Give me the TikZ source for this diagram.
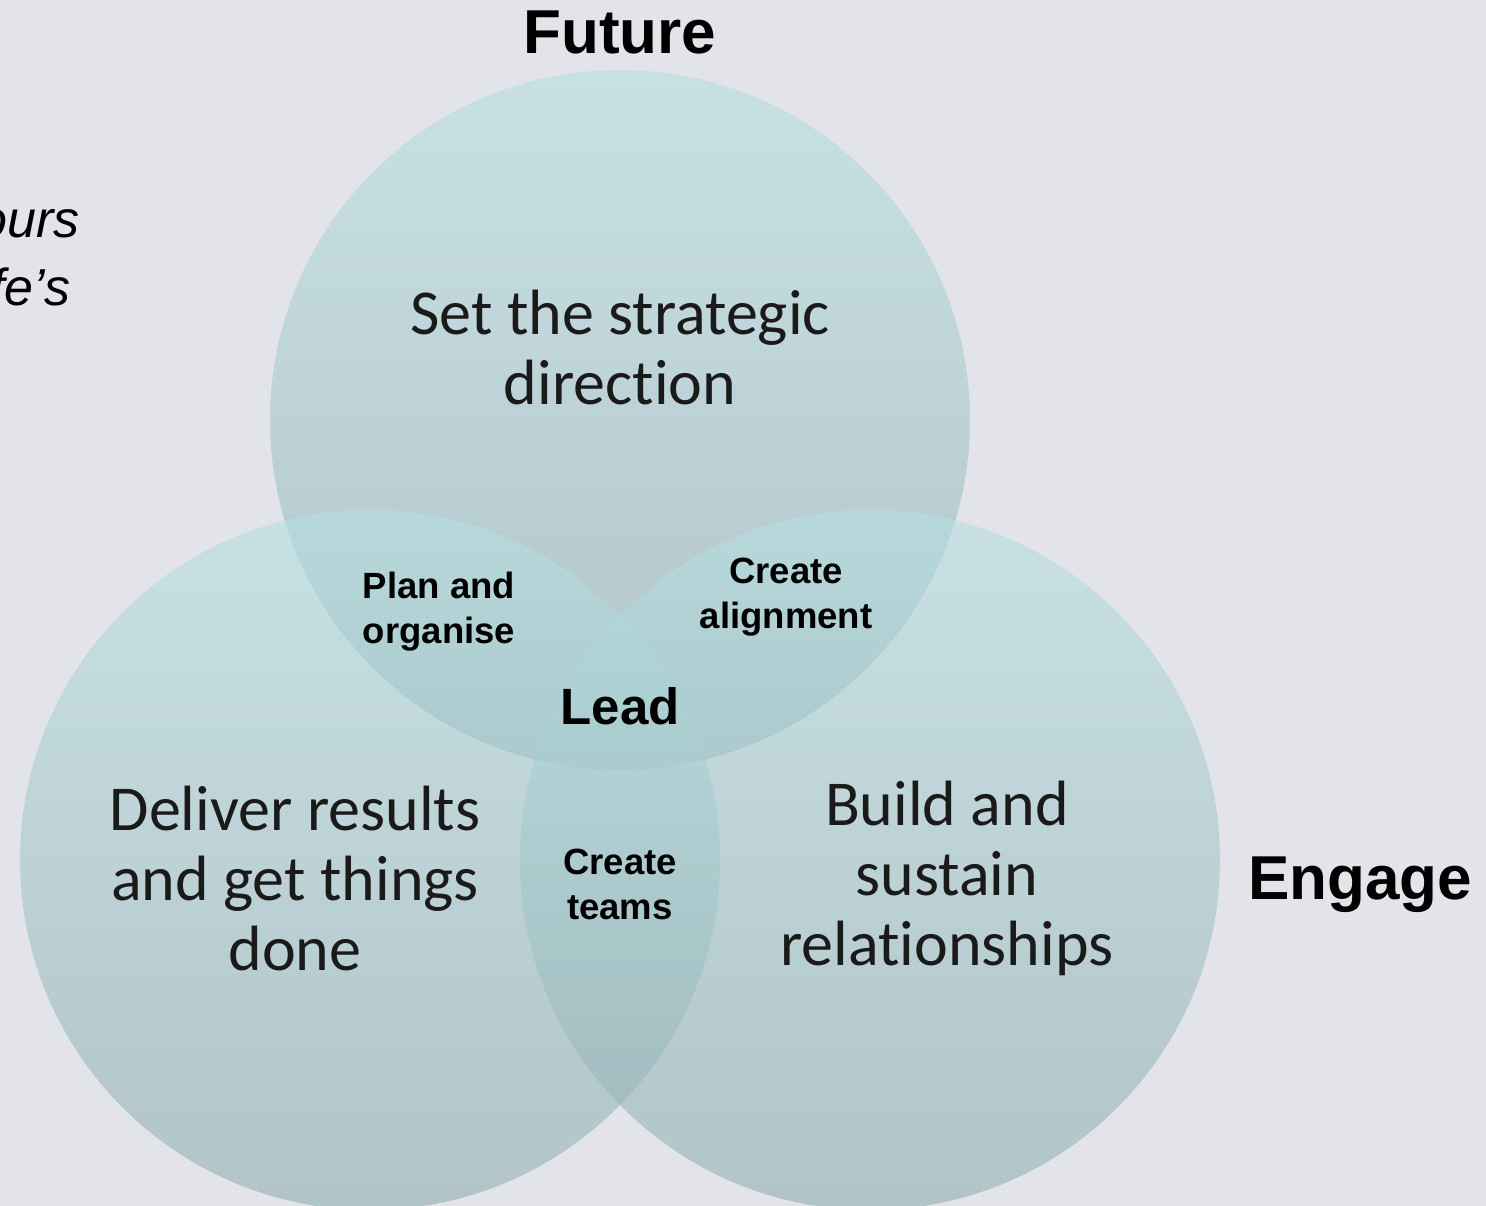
\documentclass[tikz,border=0pt]{standalone}
\usepackage{fontspec}
\setmainfont{Carlito}[Ligatures=NoCommon]
\newfontfamily\arialfont{Liberation Sans}
\usetikzlibrary{positioning}
\definecolor{pagebg}{RGB}{227,228,233}
\definecolor{ringtop}{RGB}{182,223,226}
\definecolor{ringbot}{RGB}{145,175,178}
\definecolor{inktext}{RGB}{26,26,26}
\tikzset{
  ring/.style={circle, minimum size=700, inner sep=0, top color=ringtop, bottom color=ringbot, fill opacity=0.6, draw=none},
  ringtext/.style={align=center, text=inktext, font=\fontsize{64}{70}\selectfont},
  overlaptext/.style={align=center, font=\arialfont\bfseries\fontsize{36.5}{45}\selectfont},
  axistext/.style={font=\arialfont\bfseries\fontsize{62}{70}\selectfont},
  sidetext/.style={anchor=base east, font=\arialfont\itshape\fontsize{52}{60}\selectfont}
}

\begin{document}
\begin{tikzpicture}[x=1pt, y=-1pt]
  \useasboundingbox (0,0) rectangle (1486,1206);
  \clip (0,0) rectangle (1486,1206);
  \fill[pagebg] (0,0) rectangle (1486,1206);

  % the three circles
  \node[ring] (future) at (620,420) {};
  \node[ring] (deliver) at (370,860) {};
  \node[ring] (engage) at (870,860) {};

  % circle captions
  \node[ringtext] (setdir) at (620,348) {Set the strategic\\direction};
  \node[ringtext] (results) at (295,878) {Deliver results\\and get things\\done};
  \node[ringtext] (relations) at (947,878) {Build and\\sustain\\relationships};

  % overlaps
  \node[overlaptext] (plan) at (439,612) {Plan and\\organise};
  \node[overlaptext] (align) at (786,597) {Create\\alignment};
  \node[overlaptext] (teams) at (620,884) {Create\\teams};
  \node[overlaptext, font=\arialfont\bfseries\fontsize{51}{60}\selectfont] (lead) at (620,706) {Lead};

  % headings
  \node[axistext] (futurelbl) at (620,32) {Future};
  \node[axistext] (engagelbl) at (1360,885) {Engage};

  % cut-off side note
  \node[sidetext] (noteone) at (83,238) {ours};
  \node[sidetext] (notetwo) at (74,306) {fe’s};
\end{tikzpicture}
\end{document}
